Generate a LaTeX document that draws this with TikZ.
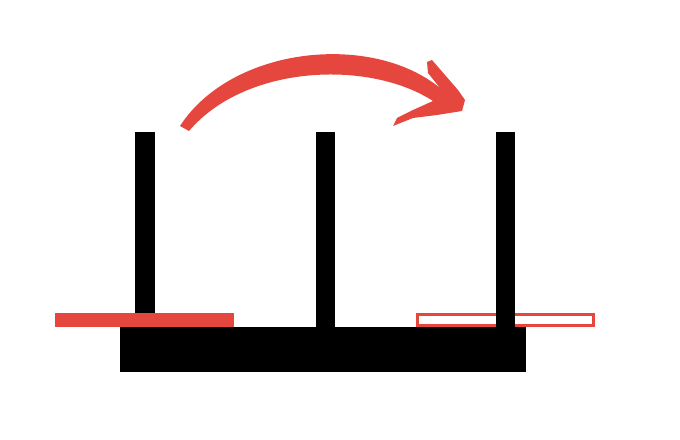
\documentclass[tikz,border=0pt]{standalone}
\usepackage{tikz}
\definecolor{diskred}{HTML}{E5473E}

\begin{document}
\begin{tikzpicture}[x=0.025cm,y=-0.025cm,
  peg/.style={fill=black},
  base/.style={fill=black},
  disk/.style={fill=diskred},
  ghost/.style={draw=diskred,fill=white,line width=3*0.025cm},
  brush/.style={fill=diskred}]
\useasboundingbox (0,0) rectangle (680,440);
% base and pegs
\fill[base] (120,327) rectangle (526,372);
\fill[peg] (135,132) rectangle (155,327);
\fill[peg] (316,132) rectangle (335,327);
% disks
\fill[disk] (55,313) rectangle (234,327);
\draw[ghost] (417.5,314.5) rectangle (593.5,325.5);
\fill[peg] (496,132) rectangle (515,327);
% curved move arrow
\fill[brush] (180,126) .. controls (232,46) and (372,32) .. (440,88)
  -- (428,73) -- (427,62) -- (432,60) -- (458,90) -- (465,100)
  -- (462,111) -- (437,115) -- (413,118) -- (393,126) -- (397,118)
  -- (413,110) -- (433,101) .. controls (370,60) and (246,64) .. (189,131)
  -- cycle;
\end{tikzpicture}
\end{document}
